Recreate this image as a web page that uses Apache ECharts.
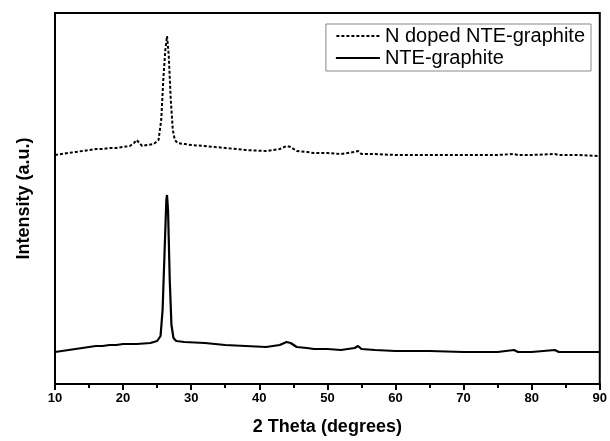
<!DOCTYPE html>
<html>
<head>
<meta charset="utf-8">
<script src="https://cdn.jsdelivr.net/npm/echarts@6/dist/echarts.min.js"></script>
<style>
  html, body { margin: 0; padding: 0; background: #fff; }
  #chart { width: 610px; height: 441px; }
</style>
</head>
<body>
<div id="chart"></div>
<script>
// 2 theta positions and intensities (a.u., offset as plotted)
var dopedTheta = [10, 11, 12, 13, 14, 15, 16, 17, 18, 19, 20, 21, 21.6, 22, 22.4, 22.8, 23.5, 24.5, 25.2, 25.6, 25.9,
    26.2, 26.45, 26.7, 27.0, 27.3, 27.6, 28, 29, 30, 32, 35, 38, 41, 43, 44, 44.6, 45.5, 47, 48, 50, 52, 54, 54.5,
    55, 57, 60, 65, 70, 75, 77.4, 78, 80, 83.4, 84, 87, 90];
var dopedIntensity = [229, 230, 231, 232, 233, 234, 235, 235, 236, 236, 237, 238, 241, 244, 241, 238, 239, 240, 244,
    264, 304, 334, 348, 329, 284, 254, 244, 241, 240, 239, 238, 236, 234, 233, 235, 238, 237, 233, 232, 231, 231, 230,
    232, 233, 230, 230, 229, 229, 229, 229, 230, 229, 229, 230, 229, 229, 228];

var plainTheta = [10, 11, 12, 13, 14, 15, 16, 17, 18, 19, 20, 22, 24, 25, 25.5, 25.8, 26.1, 26.35, 26.45, 26.6,
    26.85, 27.1, 27.4, 27.8, 29, 32, 35, 38, 41, 43, 44, 44.6, 45.5, 47, 48, 50, 52, 54, 54.5, 55, 57, 60, 65, 70,
    75, 77.4, 78, 80, 83.4, 84, 87, 90];
var plainIntensity = [32, 33, 34, 35, 36, 37, 38, 38, 39, 39, 40, 40, 41, 43, 48, 74, 134, 184, 189, 174,
    104, 59, 46, 43, 42, 41, 39, 38, 37, 39, 42, 41, 37, 36, 35, 35, 34, 36, 38, 35, 34, 33, 33, 32,
    32, 34, 32, 32, 34, 32, 32, 32];

var xTicks = [10, 20, 30, 40, 50, 60, 70, 80, 90];

var zip = function(xs, ys) {
    return xs.map(function(x, i) { return [x, ys[i]]; });
};

var font = 'Liberation Sans, Arial, sans-serif';

// legend swatches: dashed and solid strokes
var dashIcon = 'path://M0,0h3v2h-3zM5,0h3v2h-3zM10,0h3v2h-3zM15,0h3v2h-3zM20,0h3v2h-3zM25,0h3v2h-3z' +
    'M30,0h3v2h-3zM35,0h3v2h-3zM40,0h3v2h-3z';
var solidIcon = 'path://M0,0h44v2h-44z';

var option = {
    animation: false,
    backgroundColor: '#fff',
    grid: {left: 55, right: 7, top: 13, bottom: 57, show: true, borderColor: '#000', borderWidth: 2},
    legend: {
        orient: 'vertical',
        right: 19,
        top: 24,
        padding: [2, 6, 3, 10],
        itemGap: 2,
        itemWidth: 44,
        itemHeight: 2,
        borderColor: '#888',
        borderWidth: 1,
        textStyle: {fontFamily: font, fontSize: 20, color: '#000'},
        data: [
            {name: 'N doped NTE-graphite', icon: dashIcon},
            {name: 'NTE-graphite', icon: solidIcon}
        ]
    },
    xAxis: {
        type: 'value',
        min: xTicks[0],
        max: xTicks[xTicks.length - 1],
        interval: 10,
        name: '2 Theta (degrees)',
        nameLocation: 'middle',
        nameGap: 34,
        nameTextStyle: {fontFamily: font, fontSize: 18, fontWeight: 'bold', color: '#000'},
        axisLine: {lineStyle: {color: '#000', width: 2}},
        axisTick: {inside: false, length: 6, lineStyle: {color: '#000', width: 2}},
        minorTick: {show: true, splitNumber: 2, length: 4, lineStyle: {color: '#000', width: 2}},
        axisLabel: {fontFamily: font, fontSize: 13, fontWeight: 'bold', color: '#000', margin: 8},
        splitLine: {show: false}
    },
    yAxis: {
        type: 'value',
        min: 0,
        max: 371,
        name: 'Intensity (a.u.)',
        nameLocation: 'middle',
        nameGap: 22,
        nameTextStyle: {fontFamily: font, fontSize: 18, fontWeight: 'bold', color: '#000'},
        axisLine: {show: false},
        axisTick: {show: false},
        axisLabel: {show: false},
        splitLine: {show: false}
    },
    series: [{
        name: 'N doped NTE-graphite',
        type: 'line',
        symbol: 'none',
        color: '#000',
        lineStyle: {color: '#000', width: 2, type: [3, 2]},
        data: zip(dopedTheta, dopedIntensity)
    }, {
        name: 'NTE-graphite',
        type: 'line',
        symbol: 'none',
        color: '#000',
        lineStyle: {color: '#000', width: 2.2},
        data: zip(plainTheta, plainIntensity)
    }]
};

var chart = echarts.init(document.getElementById('chart'));
chart.setOption(option);
</script>
</body>
</html>
